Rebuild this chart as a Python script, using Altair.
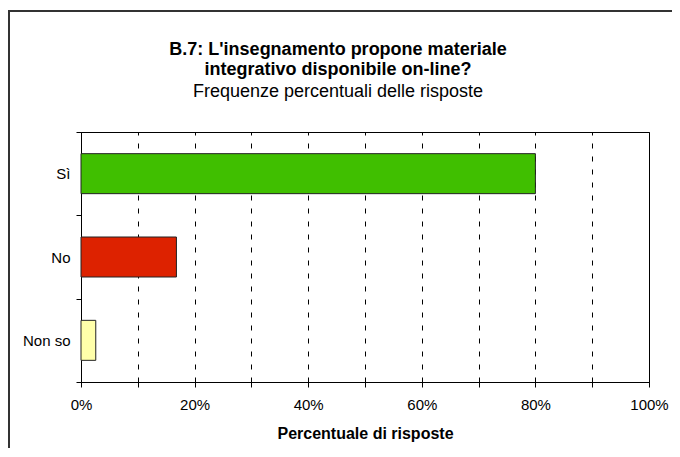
import altair as alt
import pandas as pd

categories = ["Sì", "No", "Non so"]
values = [0.80, 0.168, 0.026]
colors = ["#40BF00", "#DD2200", "#FFFFAA"]

df = pd.DataFrame({"risposta": categories, "valore": values})

FONT = "Liberation Sans, Arial, sans-serif"

bars = alt.Chart(df).mark_bar(size=40, stroke="#222222", strokeWidth=1).encode(
    x=alt.X(
        "valore:Q",
        scale=alt.Scale(domain=[0, 1], nice=False),
        axis=alt.Axis(
            values=[i / 10 for i in range(11)],
            format="%",
            labelExpr="round(datum.value*10) % 2 == 0 ? datum.label : ''",
            labelFlush=False,
            grid=True,
            gridDash=[5, 8],
            gridColor="#000000",
            gridWidth=1,
            tickSize=5,
            tickColor="#000000",
            domainColor="#000000",
            labelFontSize=15,
            labelFont=FONT,
            labelColor="#000000",
            labelPadding=10,
            title="Percentuale di risposte",
            titleFont=FONT,
            titleFontSize=16,
            titleFontWeight="bold",
            titleColor="#000000",
            titlePadding=13,
        ),
    ),
    y=alt.Y(
        "risposta:N",
        sort=categories,
        scale=alt.Scale(paddingInner=0, paddingOuter=0),
        axis=alt.Axis(
            title=None,
            tickBand="extent",
            tickSize=5,
            tickColor="#000000",
            domainColor="#000000",
            labelFont=FONT,
            labelFontSize=15,
            labelColor="#000000",
            labelPadding=6,
            grid=False,
        ),
    ),
    color=alt.Color("risposta:N", scale=alt.Scale(domain=categories, range=colors), legend=None),
)

one = alt.Data(values=[{"k": 1}])
frame_top = alt.Chart(one).mark_rule(stroke="#333333", strokeWidth=2).encode(
    x=alt.value(-72), x2=alt.value(591), y=alt.value(-121)
)
frame_left = alt.Chart(one).mark_rule(stroke="#333333", strokeWidth=2).encode(
    x=alt.value(-72), y=alt.value(-122), y2=alt.value(316)
)

chart = alt.layer(bars, frame_top, frame_left).properties(
    width=568,
    height=250,
    background="#ffffff",
    padding={"left": 73, "top": 124, "right": 23, "bottom": 66},
    autosize=alt.AutoSizeParams(type="none"),
    title=alt.TitleParams(
        text=["B.7: L'insegnamento propone materiale", "integrativo disponibile on-line?"],
        subtitle="Frequenze percentuali delle risposte",
        font=FONT,
        fontSize=18,
        fontWeight="bold",
        subtitleFont=FONT,
        subtitleFontSize=18,
        subtitleColor="#000000",
        color="#000000",
        anchor="middle",
        dx=-27,
        offset=-92,
        lineHeight=20,
        subtitlePadding=4,
    ),
).configure_view(stroke="#000000", strokeWidth=1)

chart.save("out.html", embed_options={"renderer": "svg", "actions": False})
